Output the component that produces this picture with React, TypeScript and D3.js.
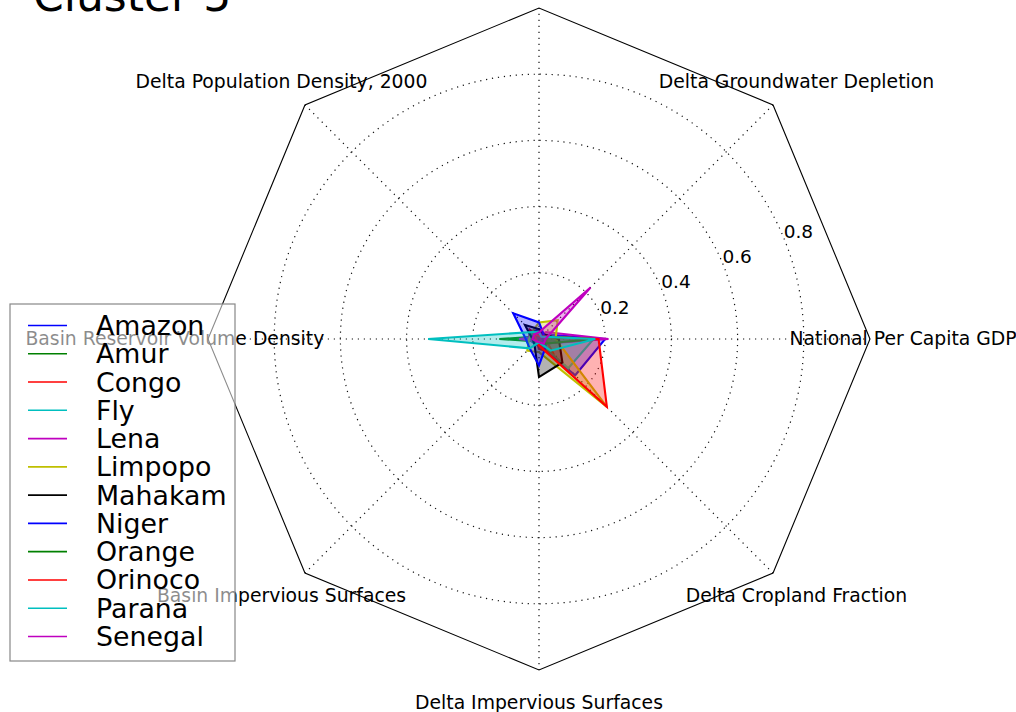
import React from "react";
import * as d3 from "d3";

// Axis names, counter-clockwise from the right (0°) in 45° steps
const axes: string[] = [
  "National Per Capita GDP",
  "Delta Groundwater Depletion",
  "",
  "Delta Population Density, 2000",
  "Basin Reservoir Volume Density",
  "Basin Impervious Surfaces",
  "Delta Impervious Surfaces",
  "Delta Cropland Fraction",
];

const deltas: string[] = [
  "Amazon", "Amur", "Congo", "Fly", "Lena", "Limpopo",
  "Mahakam", "Niger", "Orange", "Orinoco", "Parana", "Senegal",
];

// one value per axis, same order as `axes`
const amazon = [0.2, 0.02, 0.03, 0.03, 0.03, 0.02, 0.02, 0.155];
const amur = [0.18, 0.01, 0.01, 0.01, 0.12, 0.01, 0.01, 0.02];
const congo = [0.02, 0.01, 0.01, 0.04, 0.03, 0.01, 0.03, 0.06];
const fly = [0.165, 0.01, 0.01, 0.01, 0.01, 0.01, 0.01, 0.125];
const lena = [0.21, 0.03, 0.01, 0.01, 0.06, 0.01, 0.01, 0.02];
const limpopo = [0.05, 0.08, 0.05, 0.03, 0.03, 0.05, 0.04, 0.29];
const mahakam = [0.06, 0.02, 0.03, 0.06, 0.02, 0.02, 0.115, 0.1];
const niger = [0.01, 0.02, 0.05, 0.11, 0.04, 0.04, 0.08, 0.03];
const orange = [0.17, 0.01, 0.01, 0.02, 0.02, 0.01, 0.01, 0.02];
const orinoco = [0.18, 0.01, 0.01, 0.02, 0.01, 0.01, 0.02, 0.29];
const parana = [0.17, 0.01, 0.02, 0.03, 0.335, 0.04, 0.01, 0.05];
const senegal = [0.02, 0.22, 0.02, 0.02, 0.02, 0.01, 0.01, 0.02];

const seriesValues: number[][] = [
  amazon, amur, congo, fly, lena, limpopo,
  mahakam, niger, orange, orinoco, parana, senegal,
];

// classic "bgrcmyk" cycle
const palette: string[] = ["#0000ff", "#008000", "#ff0000", "#00bfbf", "#bf00bf", "#bfbf00", "#000000"];

const ringTicks: number[] = [0.2, 0.4, 0.6, 0.8];
const titleText = "Cluster 5";

const W = 1016;
const H = 712;
const cx = 539;
const cy = 339;
const R = 331;
const FONT = "'DejaVu Sans', Verdana, sans-serif";

export default function App() {
  const r = d3.scaleLinear().domain([0, 1]).range([0, R]);
  const n = axes.length;
  const theta = (i: number) => (i * 2 * Math.PI) / n; // math angle, CCW from right
  const px = (i: number, v: number) => cx + r(v) * Math.cos(theta(i));
  const py = (i: number, v: number) => cy - r(v) * Math.sin(theta(i));

  // d3 radial angle is clockwise from 12 o'clock
  const radial = d3
    .lineRadial<number>()
    .angle((_d, i) => Math.PI / 2 - theta(i))
    .radius((d) => r(d))
    .curve(d3.curveLinearClosed);

  const frame = d3
    .lineRadial<number>()
    .angle((_d, i) => Math.PI / 2 - theta(i))
    .radius(() => r(1))
    .curve(d3.curveLinearClosed)(axes.map(() => 1)) as string;

  const tickAngle = Math.PI / 8;
  const legX = 10, legY = 304, legW = 225, legH = 357;
  const rowY0 = 325.5, rowStep = 28.27;

  return (
    <svg
      width={W}
      height={H}
      style={{ position: "absolute", left: 0, top: 0, background: "#fff" }}
      fontFamily={FONT}
    >
      <rect x={0} y={0} width={W} height={H} fill="#fff" />
      <text x={33} y={11} fontSize={44} fill="#000">{titleText}</text>

      {/* grid rings */}
      {ringTicks.map((t) => (
        <circle key={t} cx={cx} cy={cy} r={r(t)} fill="none" stroke="#111" strokeWidth={1.2} strokeDasharray="1.2,4.8" />
      ))}
      {/* spokes */}
      {axes.map((_a, i) => (
        <line key={i} x1={cx} y1={cy} x2={px(i, 1)} y2={py(i, 1)} stroke="#111" strokeWidth={1.2} strokeDasharray="1.2,4.8" />
      ))}
      {/* octagonal frame */}
      <path d={frame} transform={`translate(${cx},${cy})`} fill="none" stroke="#000" strokeWidth={1.1} />

      {/* radial tick labels */}
      {ringTicks.map((t) => (
        <text key={t} x={cx + r(t) * Math.cos(tickAngle)} y={cy - r(t) * Math.sin(tickAngle)} fontSize={18.5} fill="#000">
          {t.toFixed(1)}
        </text>
      ))}

      {/* axis labels */}
      {axes.map((a, i) => (
        <text key={i} x={px(i, 1.1)} y={py(i, 1.1) - 0.5} fontSize={18.8} textAnchor="middle" dominantBaseline="central" fill="#000">
          {a}
        </text>
      ))}

      {/* series */}
      {seriesValues.map((vals, k) => {
        const col = palette[k % palette.length];
        return (
          <g key={deltas[k]} transform={`translate(${cx},${cy})`}>
            <path d={radial(vals) as string} fill={col} fillOpacity={0.3} stroke="none" />
            <path d={radial(vals) as string} fill="none" stroke={col} strokeWidth={2.1} strokeLinejoin="miter" />
          </g>
        );
      })}

      {/* legend */}
      <rect x={legX} y={legY} width={legW} height={legH} fill="#fff" fillOpacity={0.55} stroke="#888" strokeWidth={1.2} />
      {deltas.map((d, k) => {
        const y = rowY0 + k * rowStep;
        return (
          <g key={d}>
            <line x1={28} x2={67} y1={y} y2={y} stroke={palette[k % palette.length]} strokeWidth={1.6} />
            <text x={96} y={y + 9.5} fontSize={26.8} fill="#000">{d}</text>
          </g>
        );
      })}
    </svg>
  );
}
